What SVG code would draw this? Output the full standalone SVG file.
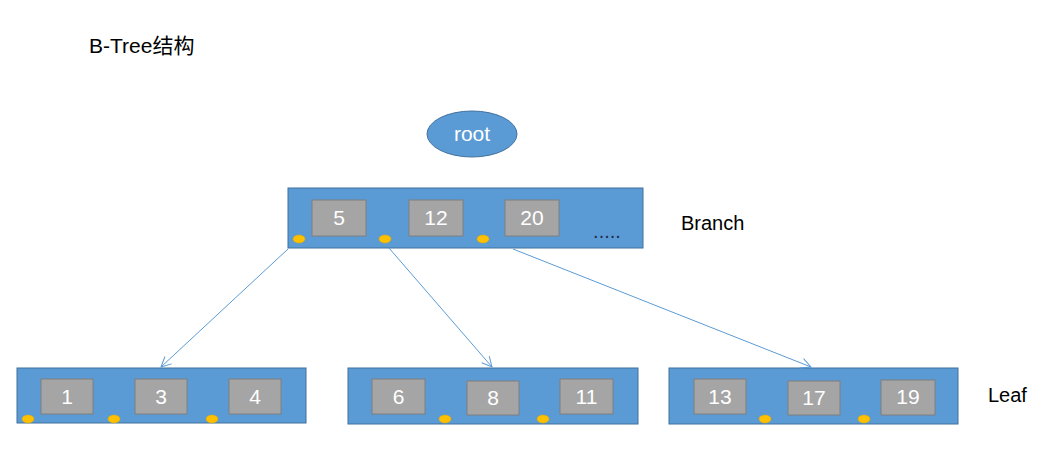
<svg xmlns="http://www.w3.org/2000/svg" width="1062" height="458" viewBox="0 0 1062 458">
<style>
.node{fill:#5B9BD5;stroke:#41719C;stroke-width:1}
.key{fill:#A5A5A5;stroke:#7F7F7F;stroke-width:1}
.ptr{fill:#FFC000;stroke:#E0A800;stroke-width:0.5}
.kt{font-family:"Liberation Sans",Arial,sans-serif;font-size:21px;fill:#FFFFFF;text-anchor:middle}
.lbl{font-family:"Liberation Sans","Noto Sans CJK SC",sans-serif;font-size:20px;fill:#000000}
.edge{stroke:#5B9BD5;stroke-width:1;fill:none;marker-end:url(#arr)}
</style>
<defs>
<marker id="arr" viewBox="0 0 12 12" refX="11" refY="6" markerWidth="12" markerHeight="12" markerUnits="userSpaceOnUse" orient="auto">
<path d="M1,1 L11,6 L1,11" fill="none" stroke="#5B9BD5" stroke-width="1"/>
</marker>
</defs>
<rect width="1062" height="458" fill="#FFFFFF"/>
<text id="title" class="lbl" x="89" y="53" style="font-size:21px">B-Tree结构</text>
<g id="root">
<ellipse class="node" cx="472" cy="134" rx="45" ry="23"/>
<text class="kt" x="472" y="141">root</text>
</g>
<g id="branch">
<rect class="node" x="288" y="188" width="355" height="60"/>
<rect class="key" x="312" y="200" width="54" height="36"/>
<text class="kt" x="339" y="225">5</text>
<rect class="key" x="409" y="200" width="54" height="36"/>
<text class="kt" x="436" y="225">12</text>
<rect class="key" x="505" y="200" width="54" height="36"/>
<text class="kt" x="532" y="225">20</text>
<text x="607" y="238" style="font-family:'Liberation Sans',sans-serif;font-size:20px;fill:#1F2D50;text-anchor:middle">.....</text>
<ellipse class="ptr" cx="299" cy="239" rx="6" ry="4"/>
<ellipse class="ptr" cx="385" cy="239" rx="6" ry="4"/>
<ellipse class="ptr" cx="483" cy="239" rx="6" ry="4"/>
</g>
<text id="branch-label" class="lbl" x="681" y="230">Branch</text>
<g id="leaf1">
<rect class="node" x="17" y="368" width="289" height="55"/>
<rect class="key" x="41" y="379" width="52" height="35"/>
<text class="kt" x="67" y="404">1</text>
<rect class="key" x="135" y="379" width="52" height="35"/>
<text class="kt" x="161" y="404">3</text>
<rect class="key" x="229" y="379" width="52" height="35"/>
<text class="kt" x="255" y="404">4</text>
<ellipse class="ptr" cx="28" cy="419" rx="6" ry="4"/>
<ellipse class="ptr" cx="114" cy="419" rx="6" ry="4"/>
<ellipse class="ptr" cx="212" cy="419" rx="6" ry="4"/>
</g>
<g id="leaf2">
<rect class="node" x="348" y="368" width="290" height="56"/>
<rect class="key" x="372" y="379" width="53" height="35"/>
<text class="kt" x="398.5" y="404">6</text>
<rect class="key" x="467" y="381" width="52" height="34"/>
<text class="kt" x="493" y="405">8</text>
<rect class="key" x="560" y="379" width="53" height="35"/>
<text class="kt" x="586.5" y="404">11</text>
<ellipse class="ptr" cx="445" cy="419" rx="6" ry="4"/>
<ellipse class="ptr" cx="543" cy="419" rx="6" ry="4"/>
</g>
<g id="leaf3">
<rect class="node" x="669" y="368" width="289" height="56"/>
<rect class="key" x="694" y="379" width="52" height="35"/>
<text class="kt" x="720" y="404">13</text>
<rect class="key" x="788" y="381" width="52" height="34"/>
<text class="kt" x="814" y="405">17</text>
<rect class="key" x="881" y="380" width="54" height="35"/>
<text class="kt" x="908" y="404">19</text>
<ellipse class="ptr" cx="765" cy="419" rx="6" ry="4"/>
<ellipse class="ptr" cx="864" cy="419" rx="6" ry="4"/>
</g>
<text id="leaf-label" class="lbl" x="988" y="402">Leaf</text>
<g id="connectors">
<line class="edge" x1="288" y1="249" x2="161" y2="367"/>
<line class="edge" x1="389" y1="248" x2="492" y2="367"/>
<line class="edge" x1="513" y1="249" x2="811" y2="367"/>
</g>
</svg>
